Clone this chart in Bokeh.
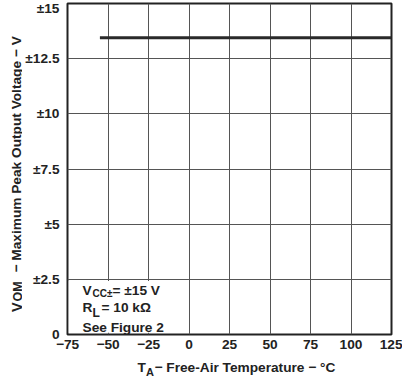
import math
from bokeh.plotting import figure
from bokeh.models import Label, FixedTicker, Range1d
from bokeh.layouts import column, row
from bokeh.embed import file_html
from bokeh.resources import INLINE

# ---- data ----
temps = [-55, 125]
vom = [13.45, 13.45]
x_ticks = [-75, -50, -25, 0, 25, 50, 75, 100, 125]
x_tick_labels = ["\u221275", "\u221250", "\u221225", "0", "25", "50", "75", "100", "125"]
y_ticks = [0, 2.5, 5, 7.5, 10, 12.5, 15]
y_tick_labels = ["0", "\u00b12.5", "\u00b15", "\u00b17.5", "\u00b110", "\u00b112.5", "\u00b115"]

FONT = "Liberation Sans"
DARK = "#222222"
FS = "13.7px"

YW = 22      # width of the y-title strip
XH = 20      # height of the x-title strip
TOTAL_W, TOTAL_H = 402, 377

p = figure(width=TOTAL_W - YW, height=TOTAL_H - XH, x_range=(-75, 125), y_range=(0, 15),
           output_backend="svg", toolbar_location=None,
           min_border_left=66 - YW, min_border_right=11, min_border_top=3, min_border_bottom=23)
p.background_fill_color = "white"
p.border_fill_color = "white"
p.outline_line_color = DARK
p.outline_line_width = 2
p.outline_line_alpha = 1

for ax in (p.xaxis[0], p.yaxis[0]):
    ax.axis_line_color = None
    ax.major_tick_line_color = None
    ax.minor_tick_line_color = None
    ax.major_tick_out = 0
    ax.major_tick_in = 0
    ax.minor_tick_out = 0
    ax.major_label_text_font = FONT
    ax.major_label_text_font_style = "bold"
    ax.major_label_text_font_size = FS
    ax.major_label_text_color = DARK

p.xaxis[0].ticker = FixedTicker(ticks=x_ticks)
p.yaxis[0].ticker = FixedTicker(ticks=y_ticks)
p.xaxis[0].major_label_overrides = {t: l for t, l in zip(x_ticks, x_tick_labels)}
p.yaxis[0].major_label_overrides = {t: l for t, l in zip(y_ticks, y_tick_labels)}
p.xaxis[0].major_label_standoff = 5
p.yaxis[0].major_label_standoff = 8

p.xgrid.ticker = FixedTicker(ticks=x_ticks)
p.ygrid.ticker = FixedTicker(ticks=y_ticks)
for g in (p.xgrid[0], p.ygrid[0]):
    g.grid_line_color = "#555555"
    g.grid_line_width = 1
    g.grid_line_alpha = 1

# white box behind the conditions text (hides grid, keeps frame)
p.quad(left=[-74.2], right=[-0.7], bottom=[0.08], top=[2.42], fill_color="white", line_color=None)

p.line(temps, vom, line_color="#2a2a2a", line_width=3)


def lab(fig, text, x, y, size=FS, angle=0.0):
    # x, y in screen px relative to the frame's bottom-left corner
    fig.add_layout(Label(x=x, y=y, x_units="screen", y_units="screen", text=text,
                         text_font=FONT, text_font_style="bold", text_font_size=size,
                         text_color=DARK, text_baseline="alphabetic", text_align="left",
                         angle=angle))


# conditions
lab(p, "V", 15, 44)
lab(p, "CC\u00b1", 25, 41.5, size="10px")
lab(p, "= \u00b115 V", 45, 44)
lab(p, "R", 15, 27)
lab(p, "L", 25, 22, size="12px")
lab(p, "= 10 k\u03a9", 34, 27)
lab(p, "See Figure 2", 15, 7)


def strip(w, h):
    f = figure(width=w, height=h, x_range=Range1d(0, 1), y_range=Range1d(0, 1),
               x_axis_location=None, y_axis_location=None, toolbar_location=None,
               output_backend="svg", min_border=0)
    f.grid.visible = False
    f.outline_line_color = None
    f.background_fill_color = "white"
    f.border_fill_color = "white"
    return f


# y axis title strip (rotated text); its frame is aligned with the main frame
yt = strip(YW, TOTAL_H - XH)
lab(yt, "V", 16, 22.5, size="14.5px", angle=math.pi / 2)
lab(yt, "OM", 17, 33, size="12.5px", angle=math.pi / 2)
lab(yt, "\u2212 Maximum Peak Output Voltage \u2212 V", 16, 62, angle=math.pi / 2)

# x axis title strip
xt = strip(TOTAL_W, XH)
lab(xt, "T", 137, 10)
lab(xt, "A", 145.6, 6, size="11px")
lab(xt, "\u2212 Free-Air Temperature \u2212 \u00b0C", 154, 10)

layout = column(row(yt, p, spacing=0), xt, spacing=0)

open("out.html", "w").write(file_html(layout, INLINE))
